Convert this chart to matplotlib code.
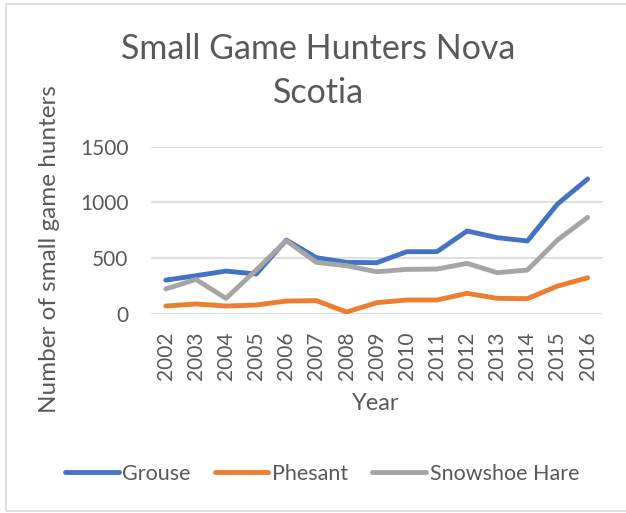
import matplotlib
matplotlib.use('Agg')
import matplotlib.pyplot as plt
from matplotlib.patches import Rectangle

years = [str(y) for y in range(2002, 2017)]
grouse = [302, 341, 383, 356, 662, 503, 461, 458, 557, 557, 743, 683, 653, 985, 1210]
phesant = [69, 87, 69, 78, 114, 117, 15, 99, 123, 123, 183, 138, 135, 248, 323]
hare = [222, 308, 138, 392, 656, 461, 431, 377, 398, 401, 452, 368, 392, 662, 865]
yticks = [0, 500, 1000, 1500]

plt.rcParams['font.family'] = ['Lato', 'DejaVu Sans']
txt_color = '#595959'

W, H = 626, 513
fig = plt.figure(figsize=(W / 100, H / 100), dpi=100)
ax = fig.add_axes([150.7 / W, 1 - 313.7 / H, 452 / W, 167 / H])

x = list(range(len(years)))
ax.plot(x, grouse, color='#4472C4', lw=3.5, solid_capstyle='round', label='Grouse')
ax.plot(x, phesant, color='#ED7D31', lw=3.5, solid_capstyle='round', label='Phesant')
ax.plot(x, hare, color='#A5A5A5', lw=3.5, solid_capstyle='round', label='Snowshoe Hare')

ax.set_xlim(-0.5, len(years) - 0.5)
ax.set_ylim(0, 1500)
ax.set_yticks(yticks)
ax.set_xticks(x)
ax.set_xticklabels(years, rotation=90)
ax.tick_params(axis='both', length=0, labelsize=15, colors=txt_color)
ax.tick_params(axis='y', pad=16)
ax.tick_params(axis='x', pad=13)
ax.grid(axis='y', color='#D9D9D9', lw=1.2)
ax.set_axisbelow(True)
for s in ax.spines.values():
    s.set_visible(False)

# title, two lines placed by baseline
fig.text(318 / W, 1 - 59 / H, 'Small Game Hunters Nova', ha='center', va='baseline',
         fontsize=24.5, color=txt_color)
fig.text(318 / W, 1 - 103 / H, 'Scotia', ha='center', va='baseline',
         fontsize=24.5, color=txt_color)
fig.text(50 / W, 1 - 249 / H, 'Number of small game hunters', rotation=90,
         ha='center', va='center', fontsize=17.5, color=txt_color)
fig.text(376 / W, 1 - 403 / H, 'Year', ha='center', va='center', fontsize=17, color=txt_color)

fig.legend(loc='center', bbox_to_anchor=(322 / W, 1 - 474 / H), ncol=3, frameon=False,
           fontsize=15.5, labelcolor=txt_color, handlelength=2.5, handletextpad=0.18,
           columnspacing=1.1)

fig.patches.append(Rectangle((6 / W, 1 - 511 / H), 622 / W, 507.5 / H, transform=fig.transFigure,
                             fill=False, edgecolor='#D9D9D9', lw=1.2))

fig.savefig('out.png', dpi=100)
